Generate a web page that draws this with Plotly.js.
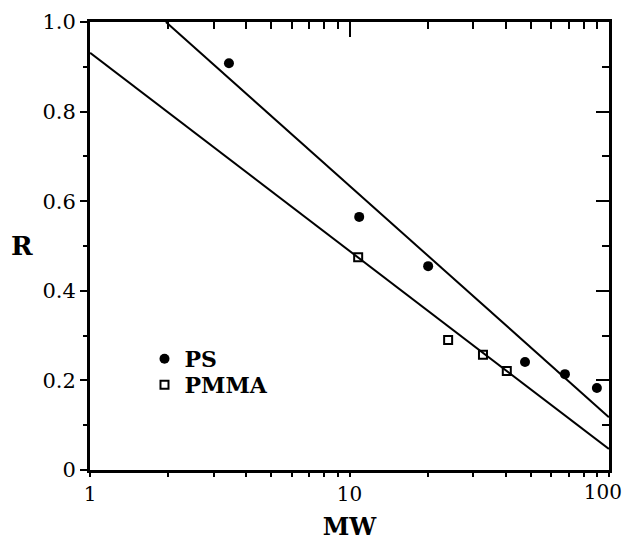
<!DOCTYPE html>
<html>
<head>
<meta charset="utf-8">
<script src="https://cdn.plot.ly/plotly-3.0.1.min.js"></script>
<style>html,body{margin:0;padding:0;background:#fff;}#chart{width:626px;height:544px;}</style>
</head>
<body>
<div id="chart"></div>
<script>
// PS data (filled circles)
var psMW = [3.43, 10.9, 20.1, 47.5, 67.7, 89.9];
var psR  = [0.908, 0.565, 0.455, 0.241, 0.214, 0.183];
// PMMA data (open squares)
var pmmaMW = [10.8, 24.0, 32.7, 40.4];
var pmmaR  = [0.475, 0.290, 0.257, 0.221];
// fitted lines (end points)
var psFitMW = [1.96, 100];
var psFitR  = [1.0, 0.118];
var pmmaFitMW = [1, 100];
var pmmaFitR  = [0.931, 0.047];
// tick labels
var xTickVals = [1, 10, 100];
var xTickText = ['1', '10', '100'];
var xMinorVals = [2,3,4,5,6,7,8,9,20,30,40,50,60,70,80,90];
var yTickVals = [0, 0.2, 0.4, 0.6, 0.8, 1.0];
var yTickText = ['0', '0.2', '0.4', '0.6', '0.8', '1.0'];

var FONT = 'DejaVu Serif, Liberation Serif, serif';
var XR = [-0.0004, 2.0004];

// all x ticks (major + minor), sorted; the last label is drawn by a helper axis nudged inward
var lastIdx = xTickVals.length - 1;
var allX = xTickVals.map(function(v, i){ return [v, i === lastIdx ? '' : xTickText[i]]; })
  .concat(xMinorVals.map(function(v){ return [v, '']; }))
  .sort(function(a, b){ return a[0] - b[0]; });
var allXVals = allX.map(function(p){ return p[0]; });
var allXText = allX.map(function(p){ return p[1]; });

var traces = [
  {x: psFitMW, y: psFitR, mode: 'lines', line: {color: '#000', width: 2}, showlegend: false, hoverinfo: 'skip'},
  {x: pmmaFitMW, y: pmmaFitR, mode: 'lines', line: {color: '#000', width: 2}, showlegend: false, hoverinfo: 'skip'},
  {x: psMW, y: psR, mode: 'markers', name: 'PS', legend: 'legend',
   marker: {symbol: 'circle', size: 10, color: '#000'}},
  {x: pmmaMW, y: pmmaR, mode: 'markers', name: 'PMMA', legend: 'legend2',
   marker: {symbol: 'square-open', size: 8, color: '#000', line: {width: 2, color: '#000'}}},
  {x: [], y: [], xaxis: 'x2', yaxis: 'y2', showlegend: false, hoverinfo: 'skip'},
  {x: [], y: [], xaxis: 'x3', yaxis: 'y2', showlegend: false, hoverinfo: 'skip'},
  {x: [], y: [], xaxis: 'x4', yaxis: 'y', showlegend: false, hoverinfo: 'skip'}
];

var legFont = {family: FONT, size: 22, weight: 'bold', color: '#000'};
var layout = {
  width: 626, height: 544,
  margin: {l: 90, r: 17, t: 22, b: 74},
  paper_bgcolor: '#fff', plot_bgcolor: '#fff',
  font: {family: FONT, color: '#000', size: 21},
  showlegend: true,
  legend: {x: 0.105, y: 0.248, xanchor: 'left', yanchor: 'middle',
           bgcolor: 'rgba(0,0,0,0)', borderwidth: 0, font: legFont},
  legend2: {x: 0.105, y: 0.19, xanchor: 'left', yanchor: 'middle',
           bgcolor: 'rgba(0,0,0,0)', borderwidth: 0, font: legFont},
  xaxis: {type: 'log', range: XR, showgrid: false, zeroline: false,
          showline: true, linecolor: '#000', linewidth: 3,
          tickmode: 'array', tickvals: allXVals, ticktext: allXText,
          ticks: 'outside', ticklen: 4, tickwidth: 2, tickcolor: '#000',
          tickfont: {family: FONT, size: 20},
          title: {text: '<b>MW</b>', font: {family: FONT, size: 24}, standoff: 14}},
  xaxis4: {type: 'log', range: XR, overlaying: 'x', side: 'bottom', anchor: 'y',
           showgrid: false, zeroline: false, showline: false,
           tickmode: 'array', tickvals: [xTickVals[lastIdx]], ticktext: [xTickText[lastIdx]],
           ticks: 'outside', ticklen: 4, tickwidth: 2, tickcolor: '#000',
           ticklabelshift: -6, tickfont: {family: FONT, size: 20}},
  yaxis: {range: [0, 1.0], showgrid: false, zeroline: false,
          showline: true, linecolor: '#000', linewidth: 3,
          tickmode: 'array', tickvals: yTickVals, ticktext: yTickText,
          ticks: 'outside', ticklen: 7, tickwidth: 2, tickcolor: '#000',
          minor: {dtick: 0.1, ticks: 'outside', ticklen: 4, tickwidth: 2, tickcolor: '#000', showgrid: false},
          tickfont: {family: FONT, size: 21}},
  xaxis2: {type: 'log', range: XR, overlaying: 'x', side: 'top', anchor: 'y2',
           showgrid: false, zeroline: false, showline: true, linecolor: '#000', linewidth: 3,
           tickmode: 'array', tickvals: allXVals, showticklabels: false,
           ticks: 'inside', ticklen: 7, tickwidth: 2, tickcolor: '#000'},
  xaxis3: {type: 'log', range: XR, overlaying: 'x', side: 'top', anchor: 'y2',
           showgrid: false, zeroline: false, showline: false,
           tickmode: 'array', tickvals: xTickVals, showticklabels: false,
           ticks: 'inside', ticklen: 15, tickwidth: 2, tickcolor: '#000'},
  yaxis2: {range: [0, 1.0], overlaying: 'y', side: 'right', anchor: 'x',
           showgrid: false, zeroline: false, showline: true, linecolor: '#000', linewidth: 3,
           tickmode: 'array', tickvals: yTickVals, showticklabels: false,
           ticks: 'inside', ticklen: 13, tickwidth: 2, tickcolor: '#000',
           minor: {dtick: 0.1, ticks: 'inside', ticklen: 7, tickwidth: 2, tickcolor: '#000', showgrid: false}},
  annotations: [
    {text: '<b>R</b>', xref: 'paper', yref: 'paper', x: -0.131, y: 0.5, xanchor: 'center', yanchor: 'middle',
     showarrow: false, font: {family: FONT, size: 26, color: '#000'}}
  ]
};

Plotly.newPlot('chart', traces, layout, {staticPlot: true, displayModeBar: false});
</script>
</body>
</html>
